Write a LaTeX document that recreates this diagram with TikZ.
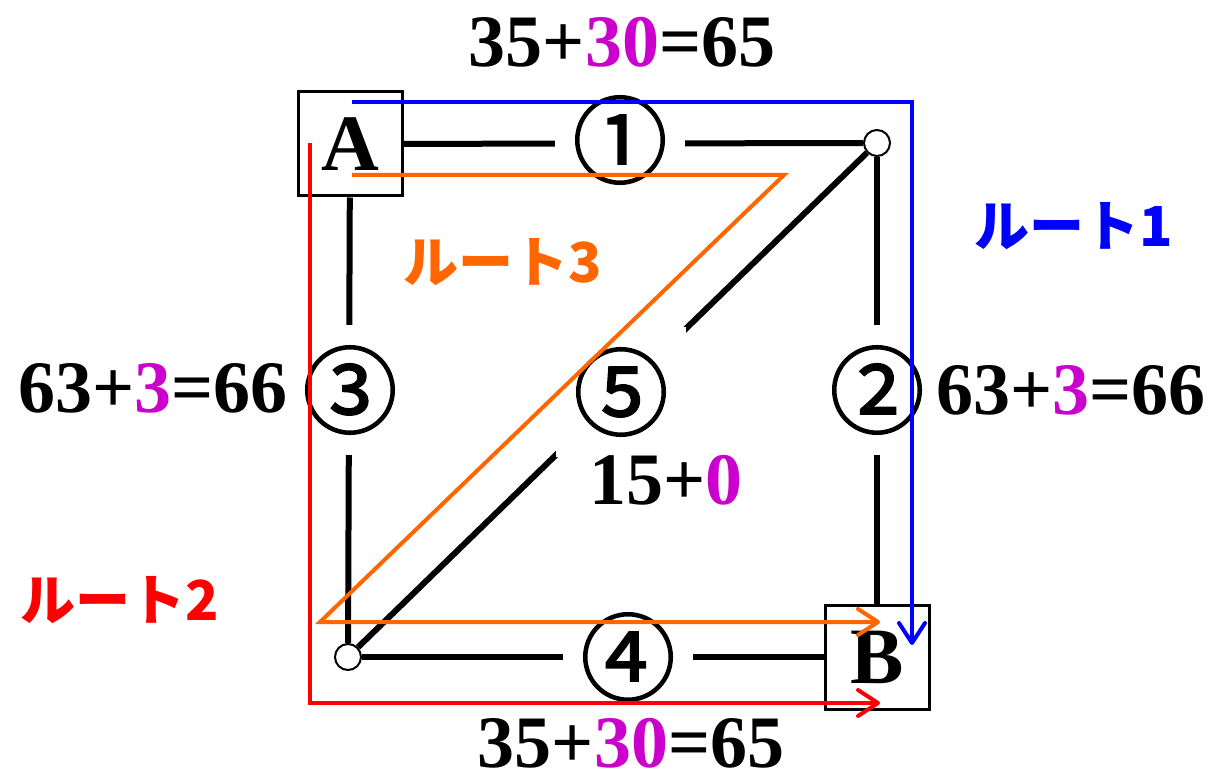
\documentclass[tikz,border=0pt]{standalone}
\usepackage{fontspec}
\setmainfont{Liberation Serif}
\newfontfamily\jpfont{Noto Sans CJK JP}
\newfontfamily\numfont[FakeBold=1.6]{Noto Sans CJK JP}
\usetikzlibrary{arrows.meta}

\definecolor{rblue}{RGB}{0,0,255}
\definecolor{rred}{RGB}{255,0,0}
\definecolor{rorange}{RGB}{255,102,0}
\definecolor{cost}{RGB}{204,0,204}

\tikzset{
  endbox/.style={draw, line width=3pt, fill=white, minimum size=104pt,
    inner sep=0pt, font=\fontsize{80}{80}\selectfont\bfseries},
  corner/.style={circle, draw, line width=2pt, fill=white,
    minimum size=26pt, inner sep=0pt},
  link/.style={line width=6pt},
  num/.style={fill=white, minimum size=130pt, inner sep=0pt,
    font=\numfont\fontsize{95}{95}\selectfont},
  sum/.style={font=\fontsize{74}{74}\selectfont\bfseries},
  route/.style={line width=4pt},
  routetip/.style={-{Straight Barb[length=20pt,width=26pt,round]}},
  routename/.style={font=\jpfont\bfseries\fontsize{55}{55}\selectfont},
}

\begin{document}
\begin{tikzpicture}[x=1pt, y=-1pt]
  \useasboundingbox (0,0) rectangle (1212,778);

  % 地点と曲がり角
  \node[endbox] (A) at (350,144) {A};
  \node[endbox] (B) at (877,657) {B};
  \node[corner] (P) at (877,143) {};
  \node[corner] (Q) at (348,657) {};

  % 道
  \draw[link] (A) -- (P);
  \draw[link] (P) -- (B);
  \draw[link] (A) -- (Q);
  \draw[link] (Q) -- (B);
  \draw[link] (P) -- (Q);

  % 道の番号
  \node[num] (n1) at (620,140) {①};
  \node[num] (n2) at (877,390) {②};
  \node[num] (n3) at (350,390) {③};
  \node[num] (n4) at (628,657) {④};
  \node[num] (n5) at (621,392) {⑤};

  % 所要時間
  \node[sum] (s1) at (622,42)   {35+\textcolor{cost}{30}=65};
  \node[sum] (s2) at (1071,390) {63+\textcolor{cost}{3}=66};
  \node[sum] (s3) at (153,388)  {63+\textcolor{cost}{3}=66};
  \node[sum] (s4) at (631,743)  {35+\textcolor{cost}{30}=65};
  \node[sum] (s5) at (666,480)  {15+\textcolor{cost}{0}};

  % ルート1
  \coordinate (b0) at (352,102);
  \coordinate (b1) at (912,102);
  \coordinate (b2) at (912,645);
  \draw[route, rblue, routetip] (b0) -- (b1) -- (b2);
  \node[routename, rblue] (r1) at (1074,226) {ルート1};

  % ルート2
  \coordinate (c0) at (310,143);
  \coordinate (c1) at (310,703);
  \coordinate (c2) at (880,703);
  \draw[route, rred, routetip] (c0) -- (c1) -- (c2);
  \node[routename, rred] (r2) at (120,600) {ルート2};

  % ルート3
  \coordinate (d0) at (352,175);
  \coordinate (d1) at (784,175);
  \coordinate (d2) at (320,622);
  \coordinate (d3) at (880,622);
  \draw[route, rorange, routetip] (d0) -- (d1) -- (d2) -- (d3);
  \node[routename, rorange] (r3) at (503,262) {ルート3};

\end{tikzpicture}
\end{document}
